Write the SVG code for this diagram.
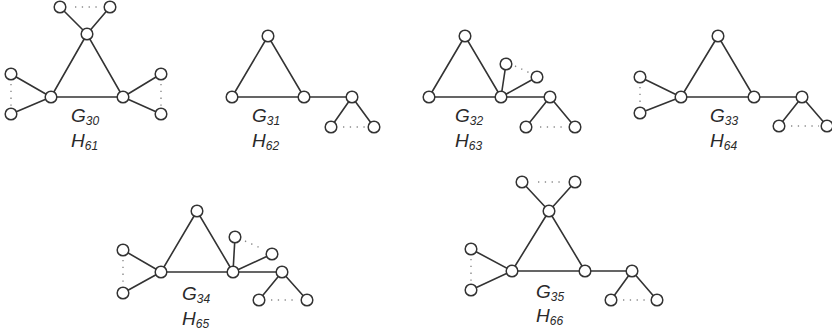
<svg xmlns="http://www.w3.org/2000/svg" width="832" height="336" viewBox="0 0 832 336">
<style>
.e{stroke:#333;stroke-width:1.6;fill:none}
.d{stroke:#8a8a8a;stroke-width:1.4;stroke-dasharray:1.3 5.5;fill:none}
.v{fill:#fff;stroke:#333;stroke-width:1.5}
.t{font-family:"Liberation Sans",Arial,sans-serif;font-style:italic;font-size:19px;fill:#2a2a2a}
.s{font-size:12px}
</style>
<rect width="832" height="336" fill="#fff"/>
<g id="connectors">
<path class="e" d="M87 34L51 97L123 97Z M87 34L60 7 M87 34L110 7 M51 97L11 74 M51 97L11 114 M123 97L161 74 M123 97L161 114"/>
<path class="d" d="M75 7H99 M11 84V106 M161 84V106"/>
<path class="e" d="M268 36L232 97L304 97Z M304 97H352 M352 97L331 127 M352 97L374 127"/>
<path class="d" d="M343 127H366"/>
<path class="e" d="M465 36L429 97L501 97Z M501 97H550 M501 97L506 64 M501 97L537 77 M550 97L526 127 M550 97L575 127"/>
<path class="d" d="M515 66L530 73 M540 127H566"/>
<path class="e" d="M718 36L681 97L754 97Z M754 97H802 M681 97L640 77 M681 97L640 113 M802 97L779 126 M802 97L827 126"/>
<path class="d" d="M640 87V105 M791 126H819"/>
<path class="e" d="M197 211L161 272L233 272Z M233 272H282 M233 272L235 237 M233 272L272 254 M161 272L123 250 M161 272L123 293 M282 272L259 300 M282 272L307 300"/>
<path class="d" d="M123 260V285 M245 241L263 249 M271 300H298"/>
<path class="e" d="M549 211L512 271L585 271Z M585 271H632 M549 211L522 182 M549 211L575 182 M512 271L471 249 M512 271L471 290 M632 271L611 300 M632 271L657 300"/>
<path class="d" d="M538 182H563 M471 259V282 M623 300H648"/>
</g>
<g id="G30">
<circle class="v" cx="87" cy="34" r="5.8"/><circle class="v" cx="51" cy="97" r="5.8"/><circle class="v" cx="123" cy="97" r="5.8"/>
<circle class="v" cx="60" cy="7" r="5.8"/><circle class="v" cx="110" cy="7" r="5.8"/>
<circle class="v" cx="11" cy="74" r="5.8"/><circle class="v" cx="11" cy="114" r="5.8"/>
<circle class="v" cx="161" cy="74" r="5.8"/><circle class="v" cx="161" cy="114" r="5.8"/>
<text class="t" x="71" y="122">G<tspan class="s" dy="3">30</tspan></text>
<text class="t" x="71" y="147">H<tspan class="s" dy="3">61</tspan></text>
</g>
<g id="G31">
<circle class="v" cx="268" cy="36" r="5.8"/><circle class="v" cx="232" cy="97" r="5.8"/><circle class="v" cx="304" cy="97" r="5.8"/>
<circle class="v" cx="352" cy="97" r="5.8"/><circle class="v" cx="331" cy="127" r="5.8"/><circle class="v" cx="374" cy="127" r="5.8"/>
<text class="t" x="252" y="122">G<tspan class="s" dy="3">31</tspan></text>
<text class="t" x="252" y="147">H<tspan class="s" dy="3">62</tspan></text>
</g>
<g id="G32">
<circle class="v" cx="465" cy="36" r="5.8"/><circle class="v" cx="429" cy="97" r="5.8"/><circle class="v" cx="501" cy="97" r="5.8"/>
<circle class="v" cx="506" cy="64" r="5.8"/><circle class="v" cx="537" cy="77" r="5.8"/>
<circle class="v" cx="550" cy="97" r="5.8"/><circle class="v" cx="526" cy="127" r="5.8"/><circle class="v" cx="575" cy="127" r="5.8"/>
<text class="t" x="455" y="122">G<tspan class="s" dy="3">32</tspan></text>
<text class="t" x="455" y="147">H<tspan class="s" dy="3">63</tspan></text>
</g>
<g id="G33">
<circle class="v" cx="718" cy="36" r="5.8"/><circle class="v" cx="681" cy="97" r="5.8"/><circle class="v" cx="754" cy="97" r="5.8"/>
<circle class="v" cx="640" cy="77" r="5.8"/><circle class="v" cx="640" cy="113" r="5.8"/>
<circle class="v" cx="802" cy="97" r="5.8"/><circle class="v" cx="779" cy="126" r="5.8"/><circle class="v" cx="827" cy="126" r="5.8"/>
<text class="t" x="710" y="122">G<tspan class="s" dy="3">33</tspan></text>
<text class="t" x="710" y="147">H<tspan class="s" dy="3">64</tspan></text>
</g>
<g id="G34">
<circle class="v" cx="197" cy="211" r="5.8"/><circle class="v" cx="161" cy="272" r="5.8"/><circle class="v" cx="233" cy="272" r="5.8"/>
<circle class="v" cx="123" cy="250" r="5.8"/><circle class="v" cx="123" cy="293" r="5.8"/>
<circle class="v" cx="235" cy="237" r="5.8"/><circle class="v" cx="272" cy="254" r="5.8"/>
<circle class="v" cx="282" cy="272" r="5.8"/><circle class="v" cx="259" cy="300" r="5.8"/><circle class="v" cx="307" cy="300" r="5.8"/>
<text class="t" x="182" y="300">G<tspan class="s" dy="3">34</tspan></text>
<text class="t" x="182" y="325">H<tspan class="s" dy="3">65</tspan></text>
</g>
<g id="G35">
<circle class="v" cx="549" cy="211" r="5.8"/><circle class="v" cx="512" cy="271" r="5.8"/><circle class="v" cx="585" cy="271" r="5.8"/>
<circle class="v" cx="522" cy="182" r="5.8"/><circle class="v" cx="575" cy="182" r="5.8"/>
<circle class="v" cx="471" cy="249" r="5.8"/><circle class="v" cx="471" cy="290" r="5.8"/>
<circle class="v" cx="632" cy="271" r="5.8"/><circle class="v" cx="611" cy="300" r="5.8"/><circle class="v" cx="657" cy="300" r="5.8"/>
<text class="t" x="536" y="298">G<tspan class="s" dy="3">35</tspan></text>
<text class="t" x="536" y="322">H<tspan class="s" dy="3">66</tspan></text>
</g>
</svg>
